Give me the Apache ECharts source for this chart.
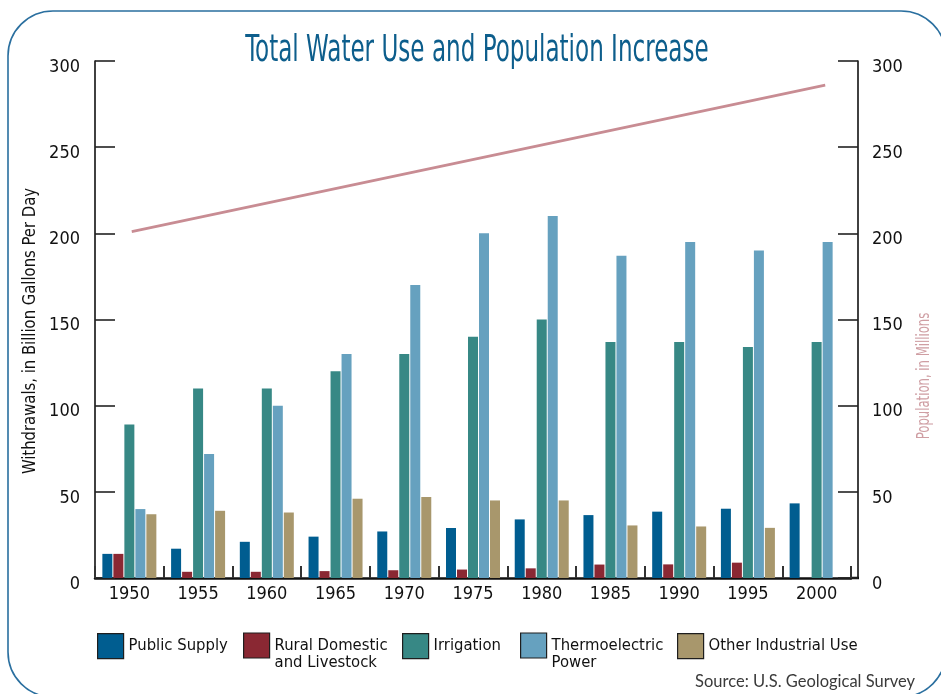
<!DOCTYPE html>
<html>
<head>
<meta charset="utf-8">
<script src="https://cdn.jsdelivr.net/npm/echarts@6/dist/echarts.min.js"></script>
<style>
html,body{margin:0;padding:0;background:#fff;}
#chart{width:941px;height:694px;}
</style>
</head>
<body>
<div id="chart"></div>
<script>
var years = ['1950','1955','1960','1965','1970','1975','1980','1985','1990','1995','2000'];
var publicSupply = [14, 17, 21, 24, 27, 29, 34, 36.5, 38.5, 40.2, 43.3];
var ruralDomestic = [14, 3.6, 3.6, 4.0, 4.5, 4.9, 5.6, 7.8, 7.9, 8.9, null];
var irrigation = [89, 110, 110, 120, 130, 140, 150, 137, 137, 134, 137];
var thermoelectric = [40, 72, 100, 130, 170, 200, 210, 187, 195, 190, 195];
var otherIndustrial = [37, 39, 38, 46, 47, 45, 45, 30.5, 29.9, 29.1, null];
var populationYears = [1950, 2000];
var population = [201, 286];
var yTicks = [0, 50, 100, 150, 200, 250, 300];

var seriesNames = ['Public Supply','Rural Domestic and Livestock','Irrigation','Thermoelectric Power','Other Industrial Use'];
var legendLabels = {
  'Public Supply':'Public Supply',
  'Rural Domestic and Livestock':'\nRural Domestic\nand Livestock',
  'Irrigation':'Irrigation',
  'Thermoelectric Power':'\nThermoelectric\nPower',
  'Other Industrial Use':'Other Industrial Use'
};
var colors = ['#005d90','#8a2833','#378885','#66a1bf','#a8976c'];
var barData = [publicSupply, ruralDomestic, irrigation, thermoelectric, otherIndustrial];

var FONT = "'Liberation Sans Narrow','DejaVu Sans Condensed',sans-serif";

var chart = echarts.init(document.getElementById('chart'), null, {renderer:'canvas'});

var legendLefts = [97, 243, 402, 520, 677];
var legends = seriesNames.map(function(n, i){
  var twoLine = legendLabels[n].indexOf('\n') >= 0;
  return {
    left: legendLefts[i], top: twoLine ? 620 : 633, padding: 0,
    itemWidth: 26, itemHeight: 25, icon: 'rect',
    itemStyle: {borderColor:'#1e1e1e', borderWidth:1.2},
    selectedMode: false,
    formatter: function(name){ return legendLabels[name]; },
    textStyle: {fontFamily: FONT, fontSize: 16.5, color:'#111', lineHeight: 17},
    data: [n]
  };
});

var series = seriesNames.map(function(n, i){
  return {
    name: n, type: 'bar', xAxisIndex: 0, yAxisIndex: 0,
    data: barData[i], barWidth: 10, barGap: '10%',
    itemStyle: {color: colors[i]}, emphasis: {disabled: true}
  };
});
series.push({
  name: 'Population', type: 'line', xAxisIndex: 1, yAxisIndex: 1,
  data: populationYears.map(function(y, i){ return [y, population[i]]; }),
  symbol: 'none', lineStyle: {color:'#c88c93', width: 2.6}, z: 5,
  emphasis: {disabled: true}
});

var yLabel = {fontFamily: FONT, fontSize: 18, color:'#111', lineHeight: 12,
              formatter: function(v){ return '\n' + v; }};

var option = {
  animation: false,
  backgroundColor: '#fff',
  grid: {left: 95, right: 90, top: 61, bottom: 116, containLabel: false},
  legend: legends,
  xAxis: [{
    type: 'category', data: years, position: 'bottom',
    axisLine: {lineStyle: {color:'#111', width: 2.5}},
    axisTick: {show: true, inside: true, length: 12, interval: 0, lineStyle:{color:'#333', width: 2}},
    axisLabel: {fontFamily: FONT, fontSize: 18, color:'#111', margin: 7, interval: 0},
    splitLine: {show: false}
  },{
    type: 'value', min: 1947.35, max: 2001.86, show: false
  }],
  yAxis: [{
    type: 'value', min: 0, max: 300, interval: 50, position: 'left',
    axisLine: {show: true, lineStyle: {color:'#111', width: 1.6}},
    axisTick: {show: true, inside: true, length: 20, lineStyle:{color:'#222', width: 1.6}},
    axisLabel: Object.assign({margin: 15}, yLabel),
    splitLine: {show: false}
  },{
    type: 'value', min: 0, max: 300, interval: 50, position: 'right', offset: 7,
    axisLine: {show: true, lineStyle: {color:'#111', width: 1.6}},
    axisTick: {show: true, inside: true, length: 20, lineStyle:{color:'#222', width: 1.6}},
    axisLabel: Object.assign({margin: 14}, yLabel),
    splitLine: {show: false}
  }],
  series: series,
  graphic: [
    {type:'rect', shape:{x:8, y:11, width:938, height:686, r:45}, silent:true, z:-10,
     style:{fill:'none', stroke:'#2a6f9f', lineWidth:1.6}},
    {type:'line', shape:{x1:850, y1:578, x2:859, y2:578}, silent:true,
     style:{stroke:'#111', lineWidth:2.5}},
    {type:'text', x:477, y:51, scaleX:0.675, silent:true,
     style:{text:'Total Water Use and Population Increase', fontFamily:FONT, fontSize:38,
            fill:'#0d5e8c', textAlign:'center', textVerticalAlign:'middle'}},
    {type:'text', x:31, y:331, rotation:Math.PI/2, scaleX:0.97, silent:true,
     style:{text:'Withdrawals, in Billion Gallons Per Day', fontFamily:FONT, fontSize:17,
            fill:'#111', textAlign:'center', textVerticalAlign:'middle'}},
    {type:'text', x:924, y:376, rotation:Math.PI/2, scaleX:0.72, silent:true,
     style:{text:'Population, in Millions', fontFamily:FONT, fontSize:18,
            fill:'#cf9ea3', textAlign:'center', textVerticalAlign:'middle'}},
    {type:'text', x:915, y:682, silent:true,
     style:{text:'Source: U.S. Geological Survey', fontFamily:"Lato, 'Open Sans', sans-serif", fontSize:16.5,
            fill:'#3a3a3a', textAlign:'right', textVerticalAlign:'middle'}}
  ]
};
chart.setOption(option);
</script>
</body>
</html>
